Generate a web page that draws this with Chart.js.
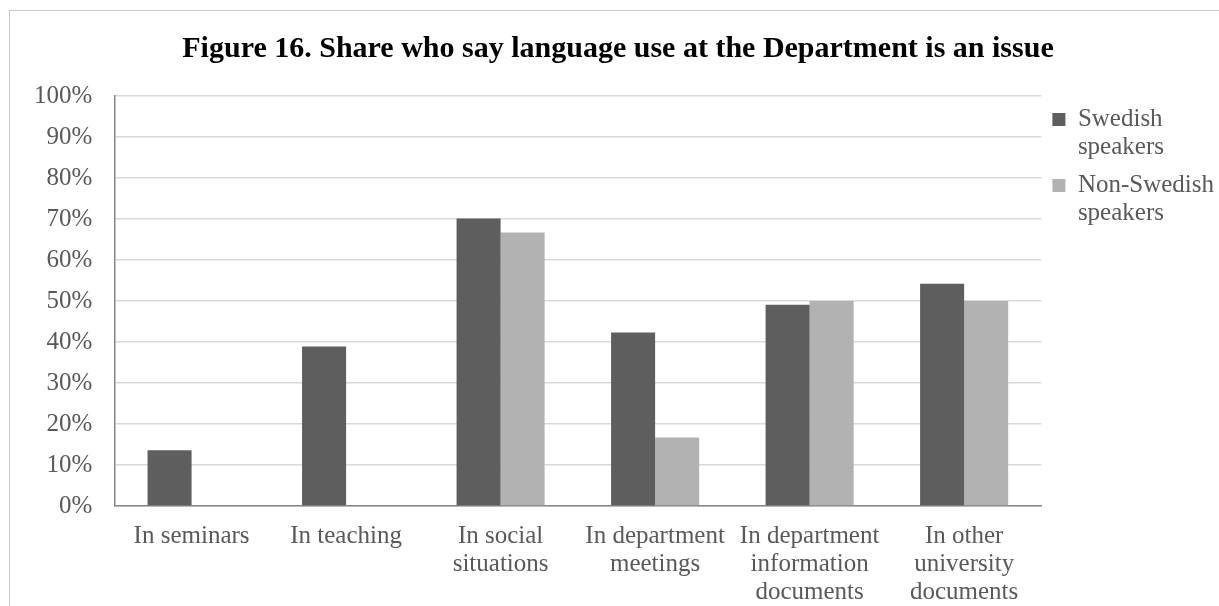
<!DOCTYPE html>
<html>
<head>
<meta charset="utf-8">
<script src="https://cdn.jsdelivr.net/npm/chart.js@4/dist/chart.umd.min.js"></script>
<style>
  body { margin: 0; background: #fff; }
  #wrap { position: relative; width: 1219px; height: 606px; }
  #frame { position: absolute; left: 9px; top: 10px; right: -4px; bottom: -4px;
           border-left: 1.5px solid #c8c8c8; border-top: 1.5px solid #c8c8c8; }
  canvas { position: absolute; left: 0; top: 0; }
</style>
</head>
<body>
<div id="wrap">
  <div id="frame"></div>
  <canvas id="issueChart" width="1219" height="606"></canvas>
</div>
<script>
// survey answers, share of respondents (%)
const categories = [
  'In seminars',
  'In teaching',
  ['In social', 'situations'],
  ['In department', 'meetings'],
  ['In department', 'information', 'documents'],
  ['In other', 'university', 'documents']
];
const swedishSpeakers = [13.6, 38.9, 70.1, 42.3, 49.1, 54.2];
const nonSwedishSpeakers = [0, 0, 66.7, 16.7, 50, 50];
const seriesNames = [['Swedish', 'speakers'], ['Non-Swedish', 'speakers']];
const titleText = 'Figure 16. Share who say language use at the Department is an issue';

const serif = "'Liberation Serif', 'Times New Roman', serif";
const textGrey = '#595959';

let data = {
  labels: categories,
  datasets: [{
    label: seriesNames[0],
    data: swedishSpeakers,
    backgroundColor: '#5e5e5e'
  }, {
    label: seriesNames[1],
    data: nonSwedishSpeakers,
    backgroundColor: '#b2b2b2'
  }]
};

let config = {
  type: 'bar',
  data: data,
  options: {
    responsive: false,
    animation: false,
    categoryPercentage: 0.57,
    barPercentage: 1,
    layout: { padding: { left: 12, right: -5, top: 0, bottom: -16 } },
    plugins: {
      title: {
        display: true,
        text: titleText,
        color: '#000',
        font: { family: serif, size: 30, weight: 'bold', lineHeight: 1.2 },
        padding: { top: 31, bottom: 29 }
      },
      legend: {
        position: 'right',
        align: 'start',
        fullSize: false,
        labels: {
          boxWidth: 13,
          boxHeight: 13,
          padding: 11,
          color: textGrey,
          font: { family: serif, size: 25, lineHeight: 1.1 },
          // legend labels keep their two-line form
          generateLabels: function(chart) {
            return chart.data.datasets.map(function(ds, i) {
              return {
                text: ds.label,
                fillStyle: ds.backgroundColor,
                strokeStyle: ds.backgroundColor,
                lineWidth: 0,
                fontColor: textGrey,
                datasetIndex: i
              };
            });
          }
        }
      },
      tooltip: { enabled: false }
    },
    scales: {
      x: {
        grid: { display: false, drawTicks: false },
        border: { color: '#868686', width: 1.5 },
        ticks: {
          color: textGrey,
          padding: 16,
          maxRotation: 0,
          autoSkip: false,
          font: { family: serif, size: 25, lineHeight: 1.12 }
        }
      },
      y: {
        min: 0,
        max: 100,
        grid: { color: '#d9d9d9', lineWidth: 1.5, drawTicks: false },
        border: { color: '#868686', width: 1.5 },
        ticks: {
          stepSize: 10,
          color: textGrey,
          padding: 22,
          font: { family: serif, size: 25 },
          callback: function(v) { return v + '%'; }
        }
      }
    }
  }
};

new Chart(document.getElementById('issueChart'), config);
</script>
</body>
</html>
